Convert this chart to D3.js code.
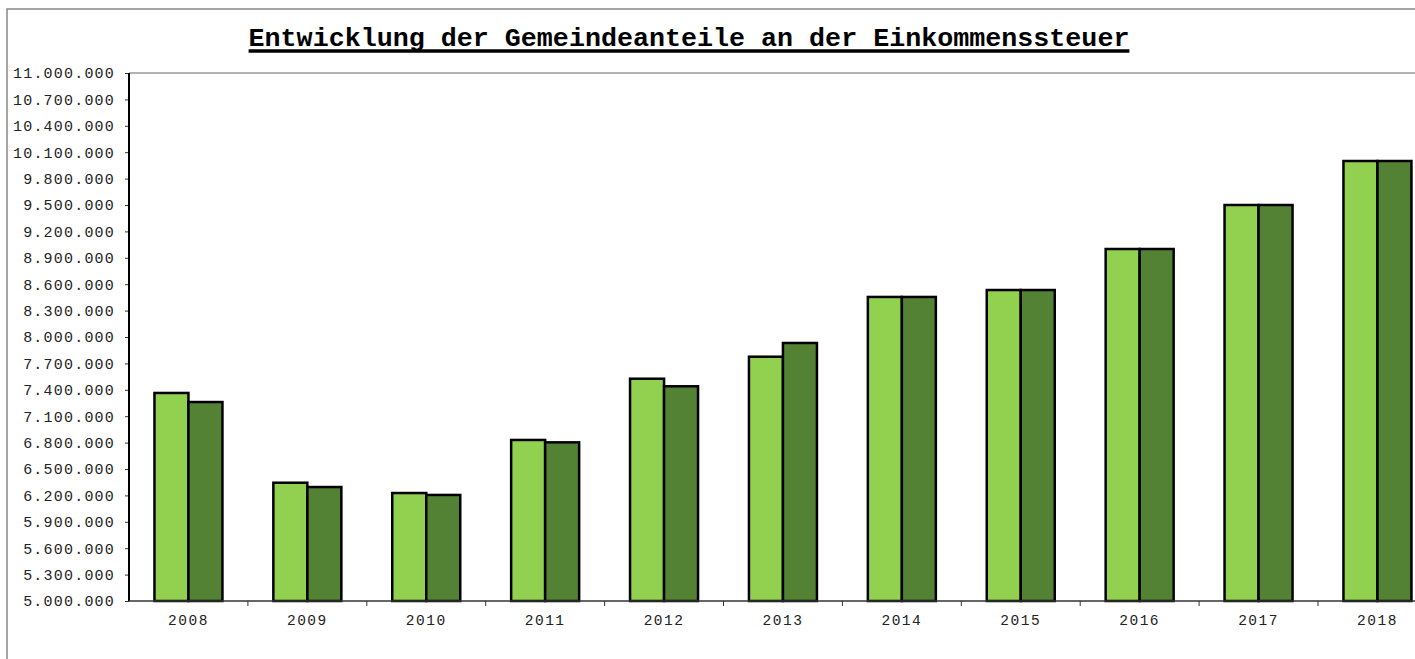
<!DOCTYPE html>
<meta charset="utf-8">
<style>
  body { margin: 0; background: #fff; }
  .axis text { font-family: "Liberation Mono", "Courier New", monospace; fill: #222; }
</style>
<svg width="1415" height="659"></svg>
<script src="https://d3js.org/d3.v7.min.js"></script>
<script>
  var years = ["2008", "2009", "2010", "2011", "2012", "2013", "2014", "2015", "2016", "2017", "2018"];
  var seriesNames = ["a", "b"];
  var valuesA = [7364000, 6344000, 6227000, 6830000, 7526000, 7776000, 8455000, 8534000, 9000000, 9500000, 10000000];
  var valuesB = [7261000, 6295000, 6205000, 6803000, 7440000, 7932000, 8455000, 8534000, 9000000, 9500000, 10000000];
  var yTicks = [5000000, 5300000, 5600000, 5900000, 6200000, 6500000, 6800000, 7100000, 7400000, 7700000, 8000000,
    8300000, 8600000, 8900000, 9200000, 9500000, 9800000, 10100000, 10400000, 10700000, 11000000];
  var colors = ["#92d050", "#548235"];
  var title = "Entwicklung der Gemeindeanteile an der Einkommenssteuer";

  var svg = d3.select("svg");

  // outer frame (runs off the right edge like the original)
  svg.append("rect")
    .attr("x", 7).attr("y", 9)
    .attr("width", 1500).attr("height", 700)
    .attr("fill", "none")
    .style("stroke", "#888")
    .style("stroke-width", 1.5);

  var plotLeft = 129, plotTop = 73, plotBottom = 601;

  var x = d3.scaleBand().domain(years).range([plotLeft, plotLeft + 11 * 118.9]);
  var x1 = d3.scaleBand().domain(seriesNames).range([0, 68]);
  var y = d3.scaleLinear().domain([5000000, 11000000]).range([plotBottom, plotTop]);

  var de = d3.formatLocale({ decimal: ",", thousands: ".", grouping: [3], currency: ["", " €"] });
  var fmt = de.format(",d");

  // plot top border
  svg.append("line")
    .attr("x1", plotLeft).attr("x2", 1415)
    .attr("y1", plotTop).attr("y2", plotTop)
    .style("stroke", "#999").style("stroke-width", 1.5);

  // title
  var t = svg.append("text")
    .attr("x", 689).attr("y", 46)
    .attr("text-anchor", "middle")
    .style("font-family", "'Liberation Mono', 'Courier New', monospace")
    .style("font-weight", "bold")
    .style("font-size", "26.7px")
    .text(title);
  var bb = t.node().getBBox();
  svg.append("line")
    .attr("x1", bb.x).attr("x2", bb.x + bb.width)
    .attr("y1", 51).attr("y2", 51)
    .style("stroke", "#000").style("stroke-width", 3.5);

  var data = years.map(function(yr, i) {
    return { year: yr, vals: [{ key: "a", v: valuesA[i] }, { key: "b", v: valuesB[i] }] };
  });

  var groups = svg.append("g").selectAll("g")
    .data(data)
    .enter().append("g")
    .attr("transform", function(d) {
      return "translate(" + (x(d.year) + x.bandwidth() / 2 - 34) + ",0)";
    });

  groups.selectAll("rect")
    .data(function(d) { return d.vals; })
    .enter().append("rect")
    .attr("x", function(d) { return x1(d.key); })
    .attr("width", x1.bandwidth())
    .attr("y", function(d) { return y(d.v); })
    .attr("height", function(d) { return plotBottom - y(d.v); })
    .attr("fill", function(d, i) { return colors[i]; })
    .style("stroke", "#000")
    .style("stroke-width", 2.5);

  // y axis
  var yAxis = d3.axisLeft(y).tickValues(yTicks).tickFormat(fmt).tickSize(4).tickPadding(10);
  var gy = svg.append("g").attr("class", "axis")
    .attr("transform", "translate(" + plotLeft + ",0)")
    .call(yAxis);
  gy.select(".domain").remove();
  gy.append("line").attr("x1", 0).attr("x2", 0).attr("y1", plotTop).attr("y2", plotBottom)
    .style("stroke", "#000").style("stroke-width", 2);
  gy.selectAll(".tick line").style("stroke", "#333");
  gy.selectAll(".tick text").style("font-size", "15px").style("letter-spacing", "1.2px");

  // x axis
  var xAxis = d3.axisBottom(x).tickSize(0).tickPadding(14);
  var gx = svg.append("g").attr("class", "axis")
    .attr("transform", "translate(0," + plotBottom + ")")
    .call(xAxis);
  gx.select(".domain").remove();
  gx.append("line").attr("x1", plotLeft).attr("x2", 1415).attr("y1", 0).attr("y2", 0)
    .style("stroke", "#333").style("stroke-width", 1.5);
  gx.selectAll(".tick text").style("font-size", "14.5px").style("letter-spacing", "1.5px");
  gx.selectAll(".sep")
    .data(years.slice(1))
    .enter().append("line")
    .attr("x1", function(d) { return x(d); })
    .attr("x2", function(d) { return x(d); })
    .attr("y1", 0).attr("y2", 5)
    .style("stroke", "#333");
</script>
